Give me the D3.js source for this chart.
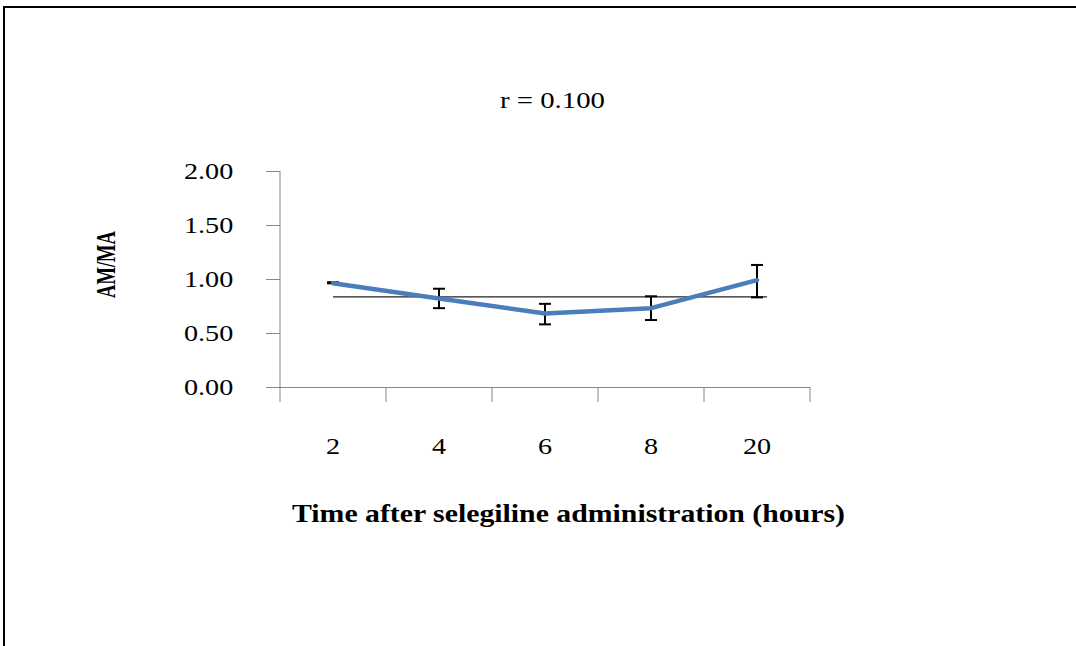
<!DOCTYPE html>
<html>
<head>
<meta charset="utf-8">
<script src="https://cdn.jsdelivr.net/npm/d3@7"></script>
<style>
  body { margin: 0; background: #fff; }
  text { font-family: "Liberation Serif", "Times New Roman", serif; fill: #000; }
</style>
</head>
<body>
<div id="chart"></div>
<script>
// chart data
var hours = ["2", "4", "6", "8", "20"];
var ratio = [0.96, 0.82, 0.68, 0.73, 0.99];
var errHi = [0.01, 0.09, 0.09, 0.11, 0.14];
var errLo = [0.00, 0.09, 0.10, 0.11, 0.16];
var meanLine = 0.835;
var yTicks = [0, 0.5, 1, 1.5, 2];

var width = 1076,
  height = 646;

var svg = d3.select("#chart").append("svg")
  .attr("width", width)
  .attr("height", height);

// outer frame (top + left only visible)
svg.append("path")
  .attr("d", "M4,646 V7 H1076")
  .attr("fill", "none")
  .attr("stroke", "#000")
  .attr("stroke-width", 2);

var x = d3.scaleBand()
  .domain(hours)
  .range([280, 810]);

var y = d3.scaleLinear()
  .domain([0, 2])
  .range([387, 171]);

var cx = function(d) { return x(d) + x.bandwidth() / 2; };

// y axis
var yAxis = svg.append("g")
  .attr("transform", "translate(280,0)")
  .call(d3.axisLeft(y).tickValues(yTicks).tickSize(14).tickPadding(25)
    .tickFormat(d3.format(".2f")));
yAxis.select(".domain").attr("stroke", "#868686").attr("d", "M0,171V387");
yAxis.selectAll(".tick line").attr("stroke", "#868686");
yAxis.selectAll(".tick text")
  .attr("font-size", 23.5)
  .attr("font-family", "Liberation Serif")
  .attr("fill", "#000")
  .attr("transform", "scale(1.2,1)");

// x axis, ticks between categories
var xAxis = svg.append("g")
  .attr("transform", "translate(0,387)")
  .call(d3.axisBottom(x).tickSize(0).tickPadding(50));
xAxis.select(".domain").attr("stroke", "#868686").attr("d", "M280,0.5H810");
xAxis.selectAll(".tick text")
  .attr("font-size", 23.5)
  .attr("font-family", "Liberation Serif")
  .attr("fill", "#000")
  .attr("transform", "scale(1.2,1)");
var edges = hours.map(function(d) { return x(d); }).concat([x(hours[hours.length - 1]) + x.bandwidth()]);
xAxis.selectAll("line.sep")
  .data(edges)
  .enter().append("line")
  .attr("class", "sep")
  .attr("x1", function(d) { return d; })
  .attr("x2", function(d) { return d; })
  .attr("y1", 0)
  .attr("y2", 15)
  .attr("stroke", "#868686");

// flat reference line
svg.append("line")
  .attr("x1", cx(hours[0]))
  .attr("x2", cx(hours[hours.length - 1]) + 10)
  .attr("y1", y(meanLine))
  .attr("y2", y(meanLine))
  .attr("stroke", "#222")
  .attr("stroke-width", 1.2);

// error bars
var eb = svg.selectAll("g.err")
  .data(hours)
  .enter().append("g")
  .attr("class", "err")
  .attr("stroke", "#000")
  .attr("stroke-width", 2);
eb.append("line")
  .attr("x1", cx).attr("x2", cx)
  .attr("y1", function(d, i) { return y(ratio[i] + errHi[i]); })
  .attr("y2", function(d, i) { return y(ratio[i] - errLo[i]); });
eb.append("line")
  .attr("x1", function(d) { return cx(d) - 6; })
  .attr("x2", function(d) { return cx(d) + 6; })
  .attr("y1", function(d, i) { return y(ratio[i] + errHi[i]); })
  .attr("y2", function(d, i) { return y(ratio[i] + errHi[i]); });
eb.append("line")
  .attr("x1", function(d) { return cx(d) - 6; })
  .attr("x2", function(d) { return cx(d) + 6; })
  .attr("y1", function(d, i) { return y(ratio[i] - errLo[i]); })
  .attr("y2", function(d, i) { return y(ratio[i] - errLo[i]); });

// data line
var line = d3.line()
  .x(function(d, i) { return cx(hours[i]); })
  .y(function(d) { return y(d); });
svg.append("path")
  .datum(ratio)
  .attr("d", line)
  .attr("fill", "none")
  .attr("stroke", "#4a7ebb")
  .attr("stroke-width", 4.5)
  .attr("stroke-linejoin", "round")
  .attr("stroke-linecap", "round");

// titles
svg.append("text")
  .attr("x", 500)
  .attr("y", 108)
  .attr("font-size", 23.5)
  .attr("textLength", 105)
  .attr("lengthAdjust", "spacingAndGlyphs")
  .text("r = 0.100");

svg.append("text")
  .attr("transform", "translate(115,298) rotate(-90) scale(1,1.35)")
  .attr("font-size", 21)
  .attr("font-weight", "bold")
  .attr("textLength", 67)
  .attr("lengthAdjust", "spacingAndGlyphs")
  .text("AM/MA");

svg.append("text")
  .attr("x", 292)
  .attr("y", 522)
  .attr("font-size", 26)
  .attr("font-weight", "bold")
  .attr("textLength", 553)
  .attr("lengthAdjust", "spacingAndGlyphs")
  .text("Time after selegiline administration (hours)");
</script>
</body>
</html>
